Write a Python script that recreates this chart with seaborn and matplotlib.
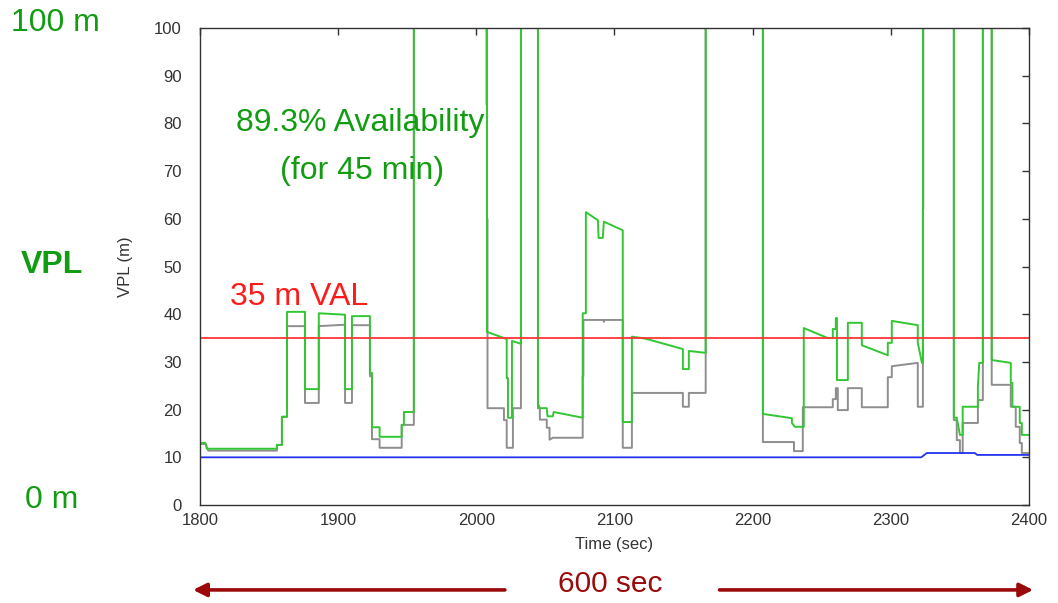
import matplotlib
matplotlib.use("Agg")
import matplotlib.pyplot as plt
import seaborn as sns
import pandas as pd

# Protection level traces over the 1800-2400 s window (values above 100 m = unavailable)
OFF = 150.0

green_t = [1800, 1804, 1805, 1855.7, 1855.7, 1859.3, 1859.3, 1863, 1863, 1876, 1876, 1886, 1886,
           1905, 1905, 1910, 1910, 1923, 1923, 1924.5, 1924.5, 1930, 1930, 1946, 1946, 1947.6,
           1947.6, 1954.8, 1954.8, 2007.7, 2007.7, 2022, 2022, 2022.9, 2022.9, 2025.8, 2025.8,
           2032.3, 2032.3, 2044.6, 2044.6, 2046, 2051, 2051.5, 2055.4, 2056, 2077, 2077, 2079.3,
           2079.3, 2088, 2088.5, 2091.5, 2092.3, 2106, 2106, 2112.6, 2112.6, 2119.8, 2123.4,
           2149.5, 2149.5, 2153.8, 2153.8, 2166, 2166, 2207.4, 2207.4, 2228.4, 2228.4, 2230.5,
           2237, 2237, 2254.4, 2258, 2258, 2260.2, 2260.2, 2261, 2261, 2268.9, 2268.9, 2279, 2279,
           2297.8, 2297.8, 2300.7, 2300.7, 2319.5, 2319.5, 2322.5, 2323.2, 2323.2, 2345.6, 2345.6,
           2347.7, 2350, 2352, 2352, 2363, 2363, 2364, 2366.6, 2366.6, 2373, 2373, 2386.8, 2386.8,
           2388, 2388, 2393.3, 2393.3, 2394.8, 2394.8, 2400]
green_v = [13.0, 13.0, 11.8, 11.8, 12.6, 12.6, 18.5, 18.5, 40.5, 40.5, 24.3, 24.3, 40.2,
           39.9, 24.3, 24.3, 39.6, 39.6, 27.7, 27.7, 16.3, 16.3, 14.3, 14.3, 16.8, 16.8,
           19.5, 19.5, OFF, OFF, 36.3, 34.8, 26.6, 26.6, 18.3, 18.3, 34.4,
           33.8, OFF, OFF, 21.3, 20.3, 20.3, 18.6, 18.6, 19.5, 18.3, 40.2, 40.2,
           61.4, 59.7, 56.0, 56.0, 59.4, 57.6, 17.4, 17.4, 35.3, 35.0, 34.8,
           32.7, 28.5, 28.5, 32.3, 31.9, OFF, OFF, 19.1, 18.2, 17.2, 16.4,
           16.4, 37.1, 35.0, 35.0, 36.9, 36.9, 39.2, 39.2, 26.2, 26.2, 38.2, 38.2, 33.5,
           31.4, 34.0, 34.0, 38.6, 37.7, 34.0, 29.8, 29.8, OFF, OFF, 18.3,
           18.3, 14.7, 14.7, 20.6, 20.6, 24.8, 29.8, 29.8, OFF, OFF, 30.4, 29.8, 25.6,
           25.6, 20.6, 20.6, 17.2, 17.2, 14.7, 14.7]

gray_t = [1800, 1804, 1806, 1855.7, 1855.7, 1859.3, 1859.3, 1863, 1863, 1876, 1876, 1886, 1886,
          1905, 1905, 1910, 1910, 1923, 1923, 1924.5, 1924.5, 1930, 1930, 1946, 1946, 1954.8,
          1954.8, 2007.4, 2007.4, 2007.7, 2007.7, 2008.1, 2008.1, 2020, 2020, 2022, 2022, 2026.5,
          2026.5, 2032.3, 2032.3, 2044.6, 2044.6, 2046, 2046, 2051, 2051, 2053, 2053, 2055.4,
          2077, 2077, 2077.5, 2077.5, 2092, 2092.3, 2092.8, 2106, 2106, 2112.6, 2112.6,
          2149.5, 2149.5, 2153.8, 2153.8, 2166, 2166, 2207.4, 2207.4, 2229.9, 2229.9, 2236.3,
          2236.3, 2258, 2258, 2260.2, 2260.2, 2261.6, 2261.6, 2268.9, 2268.9, 2279, 2279, 2297.8,
          2297.8, 2300.7, 2300.7, 2319.5, 2319.5, 2323.2, 2323.2, 2323.5, 2323.5, 2345.6, 2345.6,
          2347.7, 2347.7, 2350, 2350, 2352, 2352, 2363, 2363, 2366.6, 2366.6, 2373, 2373,
          2386.8, 2386.8, 2390.4, 2390.4, 2393.3, 2393.3, 2394.8, 2394.8, 2400]
gray_v = [12.8, 12.8, 11.4, 11.4, 12.6, 12.6, 18.5, 18.5, 37.5, 37.5, 21.4, 21.4, 37.5,
          37.8, 21.4, 21.4, 37.7, 37.7, 27.0, 27.0, 13.8, 13.8, 12.0, 12.0, 16.8, 16.8,
          OFF, OFF, 84.0, 84.0, 60.0, 60.0, 20.3, 20.3, 17.8, 17.8, 12.0, 12.0,
          20.3, 20.3, OFF, OFF, 20.3, 20.3, 17.9, 17.9, 16.2, 16.2, 13.7, 14.1,
          14.1, 27.0, 27.0, 38.8, 38.8, 38.4, 38.8, 38.8, 12.0, 12.0, 23.5,
          23.5, 20.6, 20.6, 23.5, 23.5, OFF, OFF, 13.2, 13.2, 11.3, 11.3,
          20.5, 20.5, 22.2, 22.2, 24.5, 24.5, 19.9, 19.9, 24.5, 24.5, 20.5, 20.5,
          26.8, 26.8, 29.1, 29.8, 20.6, 20.6, 62.0, 62.0, OFF, OFF, 17.8,
          17.8, 13.6, 13.6, 10.9, 10.9, 17.2, 17.2, 22.0, 22.0, OFF, OFF, 25.2,
          25.2, 20.6, 20.6, 16.4, 16.4, 13.0, 13.0, 10.9, 10.9]

blue_t = [1800, 2322, 2326, 2360.8, 2362.5, 2400]
blue_v = [10.0, 10.0, 10.9, 10.9, 10.5, 10.5]

VAL = 35
x_ticks = [1800, 1900, 2000, 2100, 2200, 2300, 2400]
y_ticks = [0, 10, 20, 30, 40, 50, 60, 70, 80, 90, 100]

sns.set_style("white")
plt.rcParams["font.family"] = ["Liberation Sans", "DejaVu Sans"]

fig = plt.figure(figsize=(10.58, 6.03), dpi=100)
ax = fig.add_axes([0.189, 0.1625, 0.7836, 0.791])

gray_df = pd.DataFrame({"t": gray_t, "v": gray_v})
green_df = pd.DataFrame({"t": green_t, "v": green_v})
blue_df = pd.DataFrame({"t": blue_t, "v": blue_v})

sns.lineplot(data=gray_df, x="t", y="v", sort=False, estimator=None,
             color="#8e8e8e", lw=1.4, ax=ax)
sns.lineplot(data=green_df, x="t", y="v", sort=False, estimator=None,
             color="#33c633", lw=1.4, ax=ax)
sns.lineplot(data=blue_df, x="t", y="v", sort=False, estimator=None,
             color="#2233ee", lw=1.3, ax=ax)
ax.axhline(VAL, color="#ff3030", lw=1.4, alpha=0.9)

ax.set_xlim(1800, 2400)
ax.set_ylim(0, 100)
ax.set_xticks(x_ticks)
ax.set_yticks(y_ticks)
ax.tick_params(direction="in", top=True, right=True, length=5, width=1,
               colors="#333333", labelsize=12)
ax.tick_params(axis="y", pad=13)
ax.tick_params(axis="x", pad=6)
for s in ax.spines.values():
    s.set_color("#333333")
    s.set_linewidth(1.0)
ax.set_xlabel("Time (sec)", fontsize=12, color="#333333", labelpad=6)
ax.set_ylabel("VPL (m)", fontsize=12, color="#333333", labelpad=15)

txt_green = "#129c12"
big = 23
ax.text(1915.8, 80.0, "89.3% Availability", color=txt_green, fontsize=big,
        ha="center", va="center")
ax.text(1917, 70.0, "(for 45 min)", color=txt_green, fontsize=big,
        ha="center", va="center")
ax.text(1821.7, 43.6, "35 m VAL", color="#ff1a1a", fontsize=big,
        ha="left", va="center")

fig.text(0.052, 0.962, "100 m", color=txt_green, fontsize=big, ha="center", va="center")
fig.text(0.049, 0.560, "VPL", color=txt_green, fontsize=big, fontweight="bold",
         ha="center", va="center")
fig.text(0.049, 0.171, "0 m", color=txt_green, fontsize=big, ha="center", va="center")

# 600-second span marker below the axis
dark_red = "#9b0a0a"
arr_y = -0.178
ax.text(2096.7, -0.165, "600 sec", color=dark_red, fontsize=21.5,
        ha="center", va="center", transform=ax.get_xaxis_transform())
arrow_kw = dict(arrowstyle="-|>", lw=2.6, color=dark_red, mutation_scale=20,
                shrinkA=0, shrinkB=0)
ax.annotate("", xy=(1795.0, arr_y), xytext=(2020.7, arr_y),
            xycoords=ax.get_xaxis_transform(), textcoords=ax.get_xaxis_transform(),
            arrowprops=arrow_kw, annotation_clip=False)
ax.annotate("", xy=(2403.0, arr_y), xytext=(2176, arr_y),
            xycoords=ax.get_xaxis_transform(), textcoords=ax.get_xaxis_transform(),
            arrowprops=arrow_kw, annotation_clip=False)

fig.savefig("out.png", dpi=100, facecolor="white")
